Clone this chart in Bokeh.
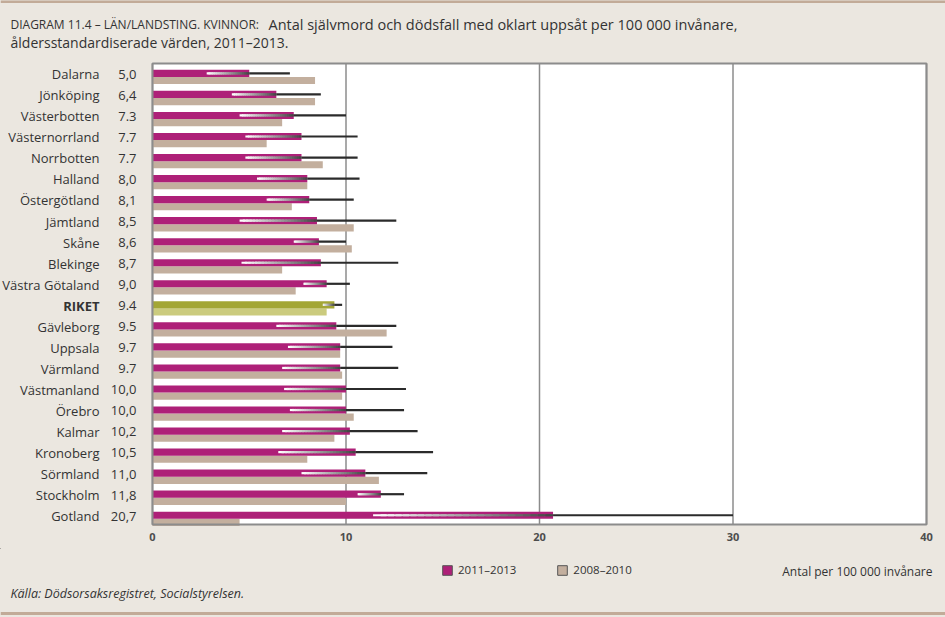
from bokeh.plotting import figure
from bokeh.layouts import column
from bokeh.models import (Range1d, ColumnDataSource, FixedTicker, Span,
                          Legend, LegendItem)
from bokeh.core.properties import value
from bokeh.embed import file_html
from bokeh.resources import INLINE

regions = ["Dalarna", "Jönköping", "Västerbotten", "Västernorrland", "Norrbotten",
           "Halland", "Östergötland", "Jämtland", "Skåne", "Blekinge",
           "Västra Götaland", "RIKET", "Gävleborg", "Uppsala", "Värmland",
           "Västmanland", "Örebro", "Kalmar", "Kronoberg", "Sörmland",
           "Stockholm", "Gotland"]
value_labels = ["5,0", "6,4", "7.3", "7.7", "7.7", "8,0", "8,1", "8,5", "8,6", "8,7",
                "9,0", "9.4", "9.5", "9.7", "9.7", "10,0", "10,0", "10,2", "10,5",
                "11,0", "11,8", "20,7"]
rate_2011_2013 = [5.0, 6.4, 7.3, 7.7, 7.7, 8.0, 8.1, 8.5, 8.6, 8.7, 9.0, 9.4, 9.5,
                  9.7, 9.7, 10.0, 10.0, 10.2, 10.5, 11.0, 11.8, 20.7]
rate_2008_2010 = [8.4, 8.4, 6.7, 5.9, 8.8, 8.0, 7.2, 10.4, 10.3, 6.7, 7.4, 9.0, 12.1,
                  9.7, 9.8, 9.8, 10.4, 9.4, 8.0, 11.7, 10.0, 4.5]
ci_low = [2.8, 4.1, 4.5, 4.8, 4.8, 5.4, 5.9, 4.5, 7.3, 4.6, 7.8, 8.8, 6.4, 7.0, 6.7,
          6.8, 7.1, 6.7, 6.5, 7.7, 10.6, 11.4]
ci_high = [7.1, 8.7, 10.0, 10.6, 10.6, 10.7, 10.4, 12.6, 10.0, 12.7, 10.2, 9.8, 12.6,
           12.4, 12.7, 13.1, 13.0, 13.7, 14.5, 14.2, 13.0, 30.0]
x_ticks = [0, 10, 20, 30, 40]
series_names = ["2011–2013", "2008–2010"]
title_caps = "DIAGRAM 11.4 – LÄN/LANDSTING. KVINNOR:"
title_line1 = "Antal självmord och dödsfall med oklart uppsåt per 100 000 invånare,"
title_line2 = "åldersstandardiserade värden, 2011–2013."
unit_text = "Antal per 100 000 invånare"
source_text = "Källa: Dödsorsaksregistret, Socialstyrelsen."

# styles
PINK, BEIGE = "#ae2078", "#c3af9e"
OLIVE_D, OLIVE_L = "#a3a635", "#cbcb7e"
BG = "#ebe7e0"
RULE = "#c2ab98"
GRID = "#8c8c8c"
FONT = "Open Sans"
TXT = "#333333"
W = 945


def blank(height):
    f = figure(width=W, height=height, output_backend="svg", toolbar_location=None,
               x_range=Range1d(0, W), y_range=Range1d(height, 0),
               min_border=0, min_border_left=0, min_border_right=0,
               min_border_top=0, min_border_bottom=0)
    f.axis.visible = False
    f.grid.visible = False
    f.outline_line_color = None
    f.background_fill_color = BG
    f.border_fill_color = BG
    return f


# ---------- header ----------
HH = 55
head = blank(HH)
head.add_layout(Span(location=1, dimension="width", line_color=RULE, line_width=3))
head.text(x=[10], y=[24], text=[title_caps], text_font=value(FONT),
          text_font_size="12px", text_baseline="middle", text_color=TXT)
head.text(x=[268], y=[24], text=[title_line1], text_font=value(FONT),
          text_font_size="14.5px", text_baseline="middle", text_color=TXT)
head.text(x=[10], y=[42], text=[title_line2], text_font=value(FONT),
          text_font_size="14px", text_baseline="middle", text_color=TXT)

# ---------- main chart ----------
n = len(regions)
rows = list(range(n))
src = ColumnDataSource(dict(
    v1=rate_2011_2013, v0=rate_2008_2010,
    y1=[i - 0.12 for i in rows], y0=[i + 0.22 for i in rows],
    ylab=[i - 0.08 for i in rows], zero=[0] * n,
    name=regions, lab=value_labels,
    c1=[OLIVE_D if r == "RIKET" else PINK for r in regions],
    c0=[OLIVE_L if r == "RIKET" else BEIGE for r in regions],
    style=["bold" if r == "RIKET" else "normal" for r in regions],
))

MH = 493
# plot-area box: x from first to last tick (152..926 px), rows -0.59..21.32 (63..524 px)
PX = 774 / (x_ticks[-1] - x_ticks[0])
BOX_TOP, BOX_BOT = -0.59, 21.32
PY = 461 / (BOX_BOT - BOX_TOP)
p = figure(width=W, height=MH, output_backend="svg", toolbar_location=None,
           x_range=Range1d(x_ticks[0] - 152 / PX, x_ticks[-1] + 19 / PX),
           y_range=Range1d(BOX_BOT + 3 / PY, BOX_TOP - 3 / PY),
           min_border_left=0, min_border_right=0, min_border_top=5,
           min_border_bottom=21)
p.background_fill_color = BG
p.border_fill_color = BG
p.outline_line_color = None
p.yaxis.visible = False
p.grid.visible = False
p.xaxis.ticker = FixedTicker(ticks=x_ticks)
p.xaxis.axis_line_color = None
p.xaxis.major_tick_line_color = None
p.xaxis.minor_tick_line_color = None
p.xaxis.major_tick_out = 0
p.xaxis.major_tick_in = 0
p.xaxis.major_label_text_font = FONT
p.xaxis.major_label_text_font_size = "11px"
p.xaxis.major_label_text_font_style = "bold"
p.xaxis.major_label_text_color = "#4d4d4d"
p.xaxis.major_label_standoff = 5

p.quad(left=x_ticks[0], right=x_ticks[-1], top=BOX_TOP, bottom=BOX_BOT,
       fill_color="white", line_color=None)
p.segment(x0=x_ticks, x1=x_ticks, y0=[BOX_TOP] * len(x_ticks),
          y1=[BOX_BOT] * len(x_ticks), line_color=GRID, line_width=1.5)

p.hbar(y="y0", right="v0", left=0, height=0.34, source=src, fill_color="c0",
       line_color=None)
p.hbar(y="y1", right="v1", left=0, height=0.34, source=src, fill_color="c1",
       line_color=None)

# gradient error bars (white at lower limit -> dark at estimate -> dark to upper limit)
N = 24
gx0, gx1, gy, gc = [], [], [], []
for i in rows:
    lo, v = ci_low[i], rate_2011_2013[i]
    step = (v - lo) / N
    for k in range(N):
        gx0.append(lo + step * k)
        gx1.append(min(v, lo + step * (k + 1.8)))
        gy.append(i - 0.12)
        t = k / (N - 1)
        c = int(255 - t * (255 - 70))
        gc.append("#%02x%02x%02x" % (c, c, c))
p.segment(x0=gx0, x1=gx1, y0=gy, y1=gy, line_color=gc, line_width=2.2)
p.segment(x0=rate_2011_2013, x1=ci_high, y0=[i - 0.12 for i in rows],
          y1=[i - 0.12 for i in rows], line_color="#2b2b2b", line_width=2.2)

# plot-area border on top
p.quad(left=x_ticks[0], right=x_ticks[-1], top=BOX_TOP, bottom=BOX_BOT,
       fill_color=None, line_color=GRID, line_width=2)

# row labels: region names and values
p.text(x="zero", y="ylab", text="name", source=src, x_offset=-53,
       text_align="right", text_baseline="middle", text_font=value(FONT),
       text_font_size="13px", text_font_style="style", text_color=TXT)
p.text(x="zero", y="ylab", text="lab", source=src, x_offset=-16,
       text_align="right", text_baseline="middle", text_font=value(FONT),
       text_font_size="13px", text_color=TXT)

# ---------- footer (legend, unit, source) ----------
FH = 617 - HH - MH
foot = blank(FH)
d1 = foot.hbar(y=[-1000], right=[0], height=1, fill_color=PINK, line_color="#555555")
d0 = foot.hbar(y=[-1000], right=[0], height=1, fill_color=BEIGE, line_color="#555555")
leg = Legend(items=[LegendItem(label=series_names[0], renderers=[d1]),
                    LegendItem(label=series_names[1], renderers=[d0])],
             orientation="horizontal", location=(441, 40),
             glyph_width=12, glyph_height=12, label_height=12, label_standoff=5,
             spacing=40, padding=0, margin=0, border_line_color=None,
             background_fill_alpha=0, label_text_font=FONT,
             label_text_font_size="11.5px", label_text_color=TXT,
             label_text_baseline="middle")
foot.add_layout(leg)
foot.text(x=[932], y=[23], text=[unit_text], text_font=value(FONT),
          text_font_size="12px", text_baseline="middle", text_align="right",
          text_color=TXT)
foot.text(x=[10], y=[45], text=[source_text], text_font=value(FONT),
          text_font_size="12.5px", text_font_style="italic", text_baseline="middle",
          text_color=TXT)
foot.add_layout(Span(location=65, dimension="width", line_color=RULE, line_width=3))

layout = column(head, p, foot, spacing=0, styles={"background-color": BG})
open("out.html", "w").write(file_html(layout, INLINE))
